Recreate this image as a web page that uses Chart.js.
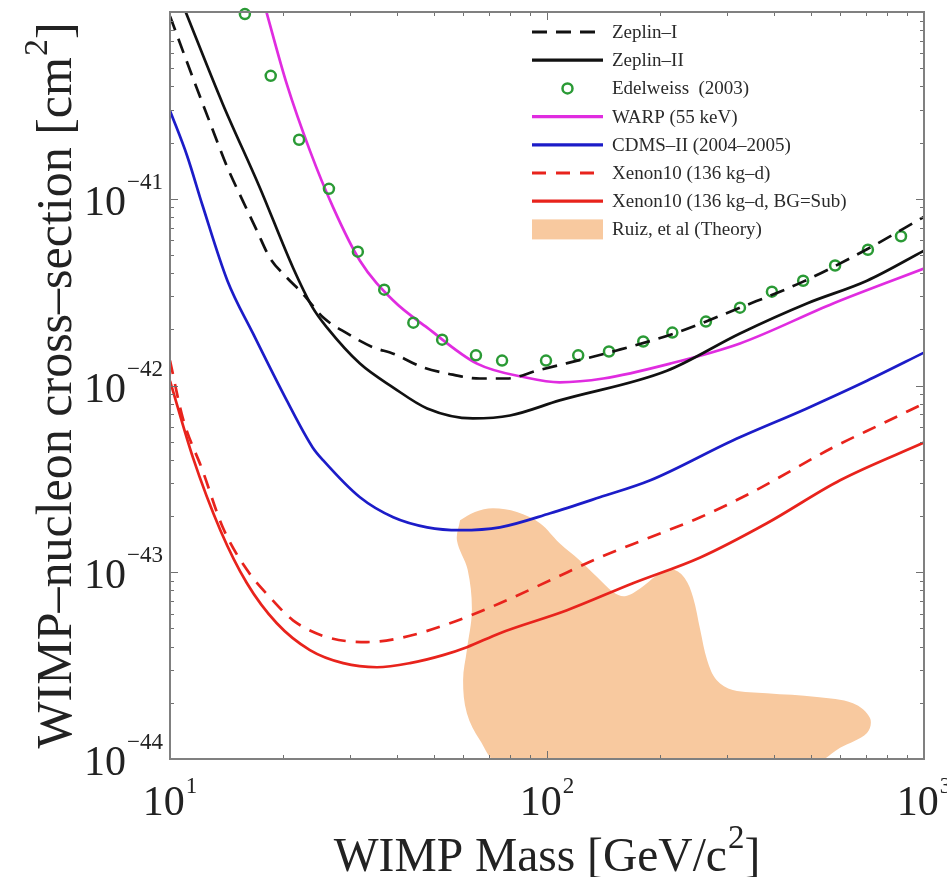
<!DOCTYPE html>
<html>
<head>
<meta charset="utf-8">
<script src="https://cdn.jsdelivr.net/npm/chart.js@4.4.0/dist/chart.umd.min.js"></script>
<style>
  html, body { margin: 0; padding: 0; background: #fff; }
  #wrap { width: 947px; height: 877px; }
</style>
</head>
<body>
<div id="wrap"><canvas id="limits" width="947" height="877"></canvas></div>
<script>
// WIMP mass in GeV/c^2, cross-section in cm^2
const zeplin1Mass  = [10, 11.5, 12.8, 14.2, 15.6, 17.0, 18.4, 20.4, 22.5, 25.5, 29.5, 34.6, 39.1, 46.9, 54.3, 66.4, 78.3, 94.0, 153, 221, 325, 478, 710, 1000];
const zeplin1Sigma = [9.5e-41, 4.44e-41, 2.52e-41, 1.47e-41, 9.75e-42, 6.75e-42, 4.83e-42, 3.79e-42, 3.10e-42, 2.31e-42, 1.90e-42, 1.60e-42, 1.48e-42, 1.25e-42, 1.16e-42, 1.09e-42, 1.09e-42, 1.20e-42, 1.54e-42, 1.92e-42, 2.61e-42, 3.60e-42, 5.40e-42, 8.0e-42];

const zeplin2Mass  = [10.9, 13.8, 17.3, 21.2, 23.9, 26.1, 31.9, 39.1, 48.1, 63.6, 79.8, 108, 208, 325, 489, 706, 1000];
const zeplin2Sigma = [1.05e-40, 3.22e-41, 1.15e-41, 4.27e-42, 2.61e-42, 2.04e-42, 1.31e-42, 9.75e-43, 7.54e-43, 6.67e-43, 6.91e-43, 8.32e-43, 1.20e-42, 1.90e-42, 2.75e-42, 3.64e-42, 5.27e-42];

const edelweissMass  = [15.8, 18.5, 22.0, 26.4, 31.5, 37.0, 44.2, 52.7, 64.8, 76.0, 99.4, 121, 146, 180, 215, 264, 325, 395, 478, 581, 710, 869];
const edelweissSigma = [9.75e-41, 4.55e-41, 2.07e-41, 1.13e-41, 5.21e-42, 3.26e-42, 2.17e-42, 1.76e-42, 1.45e-42, 1.36e-42, 1.36e-42, 1.45e-42, 1.52e-42, 1.72e-42, 1.92e-42, 2.20e-42, 2.61e-42, 3.18e-42, 3.64e-42, 4.39e-42, 5.33e-42, 6.30e-42];

const warpMass  = [17.9, 20.4, 23.5, 27.1, 31.9, 39.1, 48.1, 65.2, 88.5, 108, 141, 212, 325, 574, 1000];
const warpSigma = [1.05e-40, 4.12e-41, 1.81e-41, 8.96e-42, 4.66e-42, 2.85e-42, 2.04e-42, 1.31e-42, 1.10e-42, 1.04e-42, 1.09e-42, 1.31e-42, 1.68e-42, 2.75e-42, 4.23e-42];

const cdmsMass  = [10, 11.1, 12.2, 14.2, 16.6, 20.4, 23.9, 25.5, 31.9, 39.1, 48.1, 58.8, 75.0, 102, 138, 188, 311, 489, 706, 1000];
const cdmsSigma = [2.96e-41, 1.70e-41, 9.2e-42, 3.64e-42, 1.90e-42, 8.32e-43, 4.66e-43, 3.97e-43, 2.52e-43, 1.97e-43, 1.74e-43, 1.68e-43, 1.74e-43, 2.07e-43, 2.52e-43, 3.11e-43, 5.08e-43, 7.54e-43, 1.06e-42, 1.50e-42];

const xenonMass  = [10, 10.8, 12.2, 13.8, 16.0, 18.4, 21.2, 26.1, 33.3, 40.7, 55.3, 75.0, 102, 138, 188, 255, 345, 574, 778, 1000];
const xenonSigma = [1.36e-42, 6.75e-43, 3.51e-43, 1.74e-43, 1.03e-43, 7.35e-44, 5.53e-44, 4.49e-44, 4.23e-44, 4.44e-44, 5.33e-44, 6.82e-44, 9.06e-44, 1.20e-43, 1.54e-43, 1.97e-43, 2.64e-43, 4.66e-43, 6.27e-43, 8.02e-43];

const xenonSubMass  = [10, 11.5, 13.6, 16.0, 19.2, 23.5, 28.8, 35.4, 43.3, 53.0, 61.3, 75.0, 113, 169, 255, 383, 599, 1000];
const xenonSubSigma = [1.06e-42, 4.12e-43, 1.68e-43, 8.73e-44, 5.33e-44, 3.83e-44, 3.26e-44, 3.10e-44, 3.26e-44, 3.60e-44, 3.97e-44, 4.72e-44, 6.26e-44, 8.73e-44, 1.20e-43, 1.83e-43, 3.11e-43, 4.95e-43];

// outline of the theory region, traced clockwise from its upper-left corner
const ruizMass  = [58.8, 64.4, 71.9, 83.2, 95.8, 108, 122, 136, 150, 161, 177, 196, 216, 232, 244, 255, 266, 282, 311, 383, 520, 648, 719, 706, 599, 508, 75.0, 66.4, 61.3, 59.9, 61.3, 63.2, 61.6, 57.7, 58.8];
const ruizSigma = [1.90e-43, 2.10e-43, 2.20e-43, 2.10e-43, 1.83e-43, 1.43e-43, 1.16e-43, 9.40e-44, 7.82e-44, 7.44e-44, 8.20e-44, 9.64e-44, 1.03e-43, 9.29e-44, 7.35e-44, 4.90e-44, 3.38e-44, 2.64e-44, 2.34e-44, 2.25e-44, 2.15e-44, 1.99e-44, 1.66e-44, 1.38e-44, 1.15e-44, 0.95e-44, 0.95e-44, 1.26e-44, 1.76e-44, 2.64e-44, 3.83e-44, 6.26e-44, 1.03e-43, 1.48e-43, 1.90e-43];

const xTickValues = [10, 100, 1000];
const yTickValues = [1e-44, 1e-43, 1e-42, 1e-41];

const xTitle = ['WIMP Mass [GeV/c', '2', ']'];
const yTitle = ['WIMP\u2013nucleon cross\u2013section [cm', '2', ']'];

const serif = '"Liberation Serif", "Times New Roman", serif';

const pts = (xs, ys) => xs.map((x, i) => ({ x, y: ys[i] }));

function curve(label, xs, ys, color, dash) {
    return {
        label,
        data: pts(xs, ys),
        showLine: true,
        borderColor: color,
        borderWidth: 2.7,
        borderDash: dash || [],
        pointRadius: 0,
        cubicInterpolationMode: 'monotone',
        fill: false
    };
}

// text with one raised piece, e.g. 10^-41 or [cm^2]
function drawSup(ctx, parts, x, y, bigPx, supPx, rise, align) {
    ctx.font = bigPx + 'px ' + serif;
    const w0 = ctx.measureText(parts[0]).width;
    const w2 = parts[2] ? ctx.measureText(parts[2]).width : 0;
    ctx.font = supPx + 'px ' + serif;
    const w1 = ctx.measureText(parts[1]).width;
    const total = w0 + w1 + w2 + 1;
    let left = x;
    if (align === 'center') left = x - total / 2;
    if (align === 'right') left = x - total;
    ctx.textAlign = 'left';
    ctx.textBaseline = 'alphabetic';
    ctx.font = bigPx + 'px ' + serif;
    ctx.fillText(parts[0], left, y);
    ctx.font = supPx + 'px ' + serif;
    ctx.fillText(parts[1], left + w0 + 1, y - rise);
    if (parts[2]) {
        ctx.font = bigPx + 'px ' + serif;
        ctx.fillText(parts[2], left + w0 + w1 + 1, y);
    }
}

function logTicks(min, max) {
    const out = [];
    for (let d = Math.floor(Math.log10(min)); d < Math.ceil(Math.log10(max)); d++) {
        for (let k = 1; k <= 9; k++) {
            const v = k * Math.pow(10, d);
            if (v > min * 1.0001 && v < max * 0.9999) out.push({ v, major: k === 1 });
        }
    }
    return out;
}

// frame, inward ticks on all sides, tick labels and axis titles
const framePlugin = {
    id: 'frame',
    afterDraw(chart) {
        const { ctx, chartArea: a, scales: { x, y } } = chart;
        ctx.save();
        ctx.strokeStyle = '#707070';
        ctx.lineWidth = 1;
        ctx.beginPath();
        logTicks(x.min, x.max).forEach(t => {
            const px = Math.round(x.getPixelForValue(t.v)) + 0.5;
            const len = t.major ? 8 : 4;
            ctx.moveTo(px, a.bottom); ctx.lineTo(px, a.bottom - len);
            ctx.moveTo(px, a.top); ctx.lineTo(px, a.top + len);
        });
        logTicks(y.min, y.max).forEach(t => {
            const py = Math.round(y.getPixelForValue(t.v)) + 0.5;
            const len = t.major ? 8 : 4;
            ctx.moveTo(a.left, py); ctx.lineTo(a.left + len, py);
            ctx.moveTo(a.right, py); ctx.lineTo(a.right - len, py);
        });
        ctx.stroke();

        ctx.strokeStyle = '#808080';
        ctx.lineWidth = 2;
        ctx.strokeRect(a.left, a.top, a.right - a.left, a.bottom - a.top);

        ctx.fillStyle = '#222';
        yTickValues.forEach(v => {
            const py = y.getPixelForValue(v);
            const e = Math.round(Math.log10(v));
            drawSup(ctx, ['10', '\u2212' + Math.abs(e)], a.left - 7, py + 16, 42, 23, 26, 'right');
        });
        xTickValues.forEach(v => {
            const px = x.getPixelForValue(v);
            const e = Math.round(Math.log10(v));
            drawSup(ctx, ['10', String(e)], px, a.bottom + 56, 42, 23, 22, 'center');
        });

        drawSup(ctx, xTitle, (a.left + a.right) / 2, 871, 47.5, 33, 23, 'center');
        ctx.translate(71, (a.top + a.bottom) / 2);
        ctx.rotate(-Math.PI / 2);
        drawSup(ctx, yTitle, 0, 0, 50, 34, 24, 'center');
        ctx.restore();
    }
};

// legend drawn inside the plot, upper right
const insideLegend = {
    id: 'insideLegend',
    afterDraw(chart) {
        const { ctx } = chart;
        const x0 = 532, x1 = 603, tx = 612, y0 = 32, step = 28.2;
        ctx.save();
        chart.data.datasets.forEach((ds, i) => {
            const yy = y0 + i * step;
            if (ds.fill) {
                ctx.fillStyle = ds.backgroundColor;
                ctx.fillRect(x0, yy - 10, x1 - x0, 20);
            } else if (ds.showLine) {
                ctx.strokeStyle = ds.borderColor;
                ctx.lineWidth = 3.2;
                ctx.setLineDash(ds.borderDash);
                ctx.beginPath();
                ctx.moveTo(x0, yy); ctx.lineTo(x1, yy);
                ctx.stroke();
                ctx.setLineDash([]);
            } else {
                ctx.strokeStyle = ds.pointBorderColor;
                ctx.lineWidth = ds.pointBorderWidth;
                ctx.beginPath();
                ctx.arc((x0 + x1) / 2, yy, ds.pointRadius, 0, Math.PI * 2);
                ctx.stroke();
            }
            ctx.fillStyle = '#2a2a2a';
            ctx.font = '19px ' + serif;
            ctx.textAlign = 'left';
            ctx.textBaseline = 'middle';
            ctx.fillText(ds.label, tx, yy + 1);
        });
        ctx.restore();
    }
};

new Chart(document.getElementById('limits'), {
    type: 'scatter',
    data: {
        datasets: [
            curve('Zeplin\u2013I', zeplin1Mass, zeplin1Sigma, '#111111', [15, 9]),
            curve('Zeplin\u2013II', zeplin2Mass, zeplin2Sigma, '#111111'),
            {
                label: 'Edelweiss  (2003)',
                data: pts(edelweissMass, edelweissSigma),
                showLine: false,
                pointStyle: 'circle',
                pointRadius: 5,
                pointBorderWidth: 2.5,
                pointBorderColor: '#2a9a35',
                pointBackgroundColor: 'rgba(0,0,0,0)',
                clip: false
            },
            curve('WARP (55 keV)', warpMass, warpSigma, '#e02ce0'),
            curve('CDMS\u2013II (2004\u20132005)', cdmsMass, cdmsSigma, '#1c1cc8'),
            curve('Xenon10 (136 kg\u2013d)', xenonMass, xenonSigma, '#e8231c', [14, 10]),
            curve('Xenon10 (136 kg\u2013d, BG=Sub)', xenonSubMass, xenonSubSigma, '#e8231c'),
            {
                label: 'Ruiz, et al (Theory)',
                data: pts(ruizMass, ruizSigma),
                showLine: true,
                borderWidth: 0,
                borderColor: 'rgba(0,0,0,0)',
                backgroundColor: '#f8c99f',
                pointRadius: 0,
                tension: 0.35,
                fill: 'shape'
            }
        ]
    },
    options: {
        responsive: false,
        animation: false,
        layout: { padding: { left: 170, top: 12, right: 23, bottom: 118 } },
        plugins: {
            legend: { display: false },
            tooltip: { enabled: false }
        },
        scales: {
            x: { type: 'logarithmic', min: 10, max: 1000, display: false },
            y: { type: 'logarithmic', min: 1e-44, max: 1e-40, display: false }
        }
    },
    plugins: [framePlugin, insideLegend]
});
</script>
</body>
</html>
